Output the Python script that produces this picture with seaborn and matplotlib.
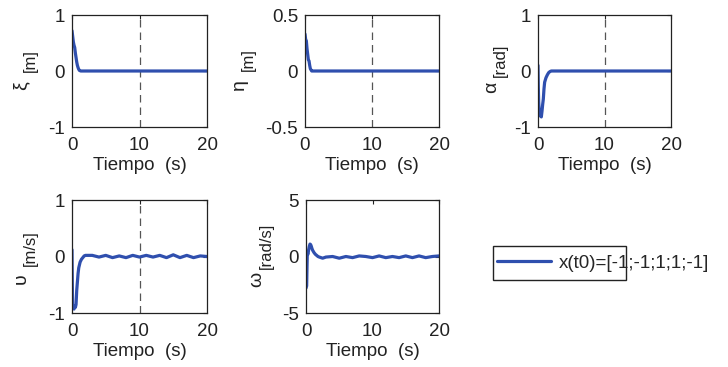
import numpy as np
import pandas as pd
import matplotlib
matplotlib.use("Agg")
import matplotlib.pyplot as plt
import seaborn as sns
from matplotlib.patches import Rectangle
from matplotlib.lines import Line2D

sns.set_style("white")
plt.rcParams['font.family'] = ['Liberation Sans', 'DejaVu Sans']

# ---------------- data ----------------
t_xi = [0, 0.1, 0.2, 0.3, 0.4, 0.5, 0.6, 0.7, 0.8, 0.9, 1.0, 1.1, 1.3, 1.6, 20]
xi = [0.72, 0.62, 0.52, 0.46, 0.42, 0.32, 0.24, 0.16, 0.1, 0.06, 0.03, 0.01, 0.0, 0.0, 0.0]

t_eta = [0, 0.1, 0.2, 0.3, 0.4, 0.5, 0.6, 0.7, 0.8, 0.9, 1.0, 1.2, 20]
eta = [0.33, 0.28, 0.27, 0.2, 0.15, 0.1, 0.09, 0.05, 0.02, 0.01, 0.0, 0.0, 0.0]

t_alpha = [0, 0.05, 0.1, 0.2, 0.3, 0.4, 0.5, 0.6, 0.7, 0.8, 0.9, 1.0, 1.2, 1.4, 1.6, 1.8, 2.0, 20]
alpha = [0.1, -0.3, -0.55, -0.75, -0.8, -0.78, -0.82, -0.72, -0.6, -0.5, -0.32, -0.2, -0.12, -0.07, -0.03, -0.01, 0.0, 0.0]

t_nu = [0, 0.05, 0.1, 0.2, 0.3, 0.4, 0.5, 0.6, 0.7, 0.8, 0.9, 1.0, 1.2, 1.4, 1.6, 1.8, 2.0,
        3.0, 4.0, 5.0, 6.0, 7.0, 8.0, 9.0, 10.0, 11.0, 12.0, 13.0, 14.0, 15.0, 16.0, 17.0, 18.0, 19.0, 20.0]
nu = [0.12, -0.5, -0.92, -0.9, -0.93, -0.88, -0.9, -0.85, -0.6, -0.45, -0.3, -0.2, -0.1, -0.05, -0.02, 0.01, 0.02,
      0.02, -0.01, 0.02, -0.02, 0.01, -0.02, 0.02, -0.01, 0.02, -0.01, 0.02, -0.02, 0.03, -0.02, 0.02, -0.02, 0.01, 0.0]

t_omega = [0, 0.1, 0.15, 0.2, 0.3, 0.4, 0.5, 0.6, 0.7, 0.8, 0.9, 1.0, 1.2, 1.4, 1.6, 1.8, 2.0, 2.5, 3.0,
           4.0, 5.0, 6.0, 7.0, 8.0, 9.0, 10.0, 11.0, 12.0, 13.0, 14.0, 15.0, 16.0, 17.0, 18.0, 19.0, 20.0]
omega = [-2.8, -2.6, -1.0, 0.3, 0.2, 0.6, 0.9, 1.1, 1.05, 0.9, 0.7, 0.55, 0.35, 0.2, 0.1, 0.0, -0.05, -0.15, -0.05,
         0.0, -0.15, 0.0, -0.1, 0.05, 0.0, -0.1, 0.05, -0.1, 0.0, -0.1, 0.05, -0.1, 0.05, -0.1, 0.0, 0.05]

symbols = ["ξ", "η", "α", "υ", "ω"]
units = ["[m]", "[m]", "[rad]", "[m/s]", "[rad/s]"]
legend_label = "x(t0)=[-1;-1;1;1;-1]"
xticks = [0, 10, 20]

panels = [
    dict(t=t_xi, y=xi, ylim=(-1, 1), yticks=[-1, 0, 1], ytl=["-1", "0", "1"], vline=True),
    dict(t=t_eta, y=eta, ylim=(-0.5, 0.5), yticks=[-0.5, 0, 0.5], ytl=["-0.5", "0", "0.5"], vline=True),
    dict(t=t_alpha, y=alpha, ylim=(-1, 1), yticks=[-1, 0, 1], ytl=["-1", "0", "1"], vline=True),
    dict(t=t_nu, y=nu, ylim=(-1, 1), yticks=[-1, 0, 1], ytl=["-1", "0", "1"], vline=True),
    dict(t=t_omega, y=omega, ylim=(-5, 5), yticks=[-5, 0, 5], ytl=["-5", "0", "5"], vline=False),
]

# ---------------- layout (pixels) ----------------
W, H = 728, 367
rects_px = [(72, 15, 207, 127), (305, 15, 439, 127), (538, 15, 671, 127),
            (72, 200, 207, 313), (306, 200, 439, 313)]
sym_pos = [(21, 86), (239, 85), (492, 87), (21, 279), (257, 279)]
unit_pos = [(30, 61), (248, 60), (500, 60), (30, 248), (266, 246)]

fig = plt.figure(figsize=(W / 100, H / 100), dpi=100)

color = "#2f4fae"
tc = "#222222"
fs = 13.5
for i, (p, (x0, y0, x1, y1)) in enumerate(zip(panels, rects_px)):
    ax = fig.add_axes([x0 / W, 1 - y1 / H, (x1 - x0) / W, (y1 - y0) / H])
    df = pd.DataFrame({"t": p["t"], "v": p["y"]})
    sns.lineplot(data=df, x="t", y="v", ax=ax, color=color, linewidth=2.3)
    if p["vline"]:
        ax.axvline(10, color="#555555", linestyle=(0, (6, 4)), linewidth=0.9, zorder=0)
    ax.set_xlim(0, 20)
    ax.set_ylim(*p["ylim"])
    ax.set_xticks(xticks)
    ax.set_xticklabels([str(v) for v in xticks], fontsize=fs)
    ax.set_yticks(p["yticks"])
    ax.set_yticklabels(p["ytl"], fontsize=fs)
    ax.tick_params(axis="x", direction="in", length=3, width=0.8, top=True, pad=7.5, colors=tc)
    ax.tick_params(axis="y", direction="in", length=3, width=0.8, right=True, pad=5, colors=tc)
    for s in ax.spines.values():
        s.set_linewidth(0.9)
        s.set_color(tc)
    ax.set_xlabel("Tiempo  (s)", fontsize=fs, color=tc, labelpad=2)
    ax.set_ylabel("")
    sx, sy = sym_pos[i]
    ux, uy = unit_pos[i]
    fig.text(sx / W, 1 - sy / H, symbols[i], rotation=90, ha="center", va="center",
             fontsize=14, color=tc)
    fig.text(ux / W, 1 - uy / H, units[i], rotation=90, ha="center", va="center",
             fontsize=12, color=tc)

# legend
fig.patches.append(Rectangle((493 / W, 1 - 280 / H), (626 - 493) / W, (280 - 246) / H,
                             transform=fig.transFigure, fill=False, edgecolor=tc, linewidth=1.0))
handle = Line2D([], [], color=color, linewidth=2.3)
fig.legend([handle], [legend_label], loc="center left", bbox_to_anchor=(497 / W, 1 - 263 / H),
           frameon=False, fontsize=fs, handlelength=2.9, handletextpad=0.4, borderpad=0, borderaxespad=0)

fig.savefig("out.png", dpi=100)
